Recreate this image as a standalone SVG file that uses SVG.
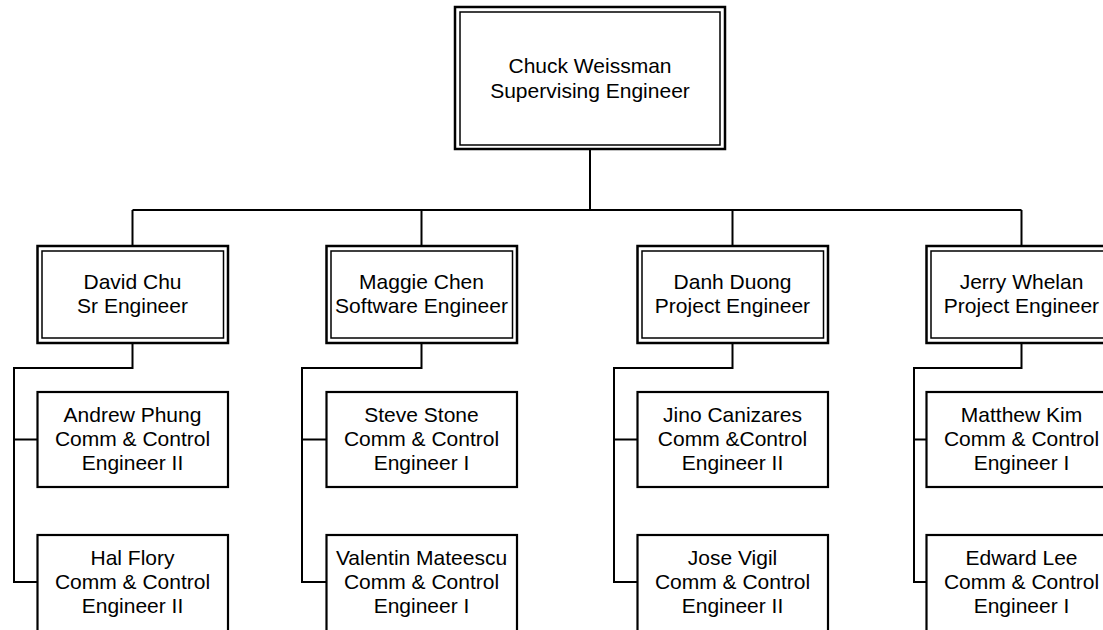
<svg xmlns="http://www.w3.org/2000/svg" width="1103" height="630" viewBox="0 0 1103 630">
<style>
.o{fill:#fff;stroke:#000;stroke-width:2.5}
.i{fill:none;stroke:#000;stroke-width:1.5}
.b{fill:#fff;stroke:#000;stroke-width:2.2}
.c{fill:none;stroke:#000;stroke-width:2}
text{font-family:"Liberation Sans",Arial,sans-serif;font-size:21px;text-anchor:middle;fill:#000}
</style>
<rect width="1103" height="630" fill="#fff"/>
<g id="connectors">
<path class="c" d="M590 149V210M132.5 210H1021.5M132.5 210V246M421.5 210V246M732.5 210V246M1021.5 210V246"/>
<path class="c" d="M132.5 343V368H14V582H37M14 439.5H37"/>
<path class="c" d="M421.5 343V368H302V582H326M302 439.5H326"/>
<path class="c" d="M732.5 343V368H614V582H637M614 439.5H637"/>
<path class="c" d="M1021.5 343V368H914V582H926M914 439.5H926"/>
</g>
<g id="chuck">
<rect class="o" x="455" y="7" width="270" height="142"/>
<rect class="i" x="460" y="12" width="260" height="133"/>
<text x="590" y="73">Chuck Weissman</text>
<text x="590" y="98">Supervising Engineer</text>
</g>
<g id="david">
<rect class="o" x="37.5" y="246" width="190.5" height="97"/>
<rect class="i" x="42" y="251" width="181.5" height="87"/>
<text x="132.5" y="289">David Chu</text>
<text x="132.5" y="313">Sr Engineer</text>
</g>
<g id="maggie">
<rect class="o" x="326.5" y="246" width="190.5" height="97"/>
<rect class="i" x="331" y="251" width="181.5" height="87"/>
<text x="421.5" y="289">Maggie Chen</text>
<text x="421.5" y="313">Software Engineer</text>
</g>
<g id="danh">
<rect class="o" x="637.5" y="246" width="190.5" height="97"/>
<rect class="i" x="642" y="251" width="181.5" height="87"/>
<text x="732.5" y="289">Danh Duong</text>
<text x="732.5" y="313">Project Engineer</text>
</g>
<g id="jerry">
<rect class="o" x="926.5" y="246" width="190.5" height="97"/>
<rect class="i" x="931" y="251" width="181.5" height="87"/>
<text x="1021.5" y="289">Jerry Whelan</text>
<text x="1021.5" y="313">Project Engineer</text>
</g>
<g id="andrew">
<rect class="b" x="37.5" y="392" width="190.5" height="95"/>
<text x="132.5" y="422">Andrew Phung</text>
<text x="132.5" y="446">Comm &amp; Control</text>
<text x="132.5" y="470">Engineer II</text>
</g>
<g id="hal">
<rect class="b" x="37.5" y="535" width="190.5" height="100"/>
<text x="132.5" y="565">Hal Flory</text>
<text x="132.5" y="589">Comm &amp; Control</text>
<text x="132.5" y="613">Engineer II</text>
</g>
<g id="steve">
<rect class="b" x="326.5" y="392" width="190.5" height="95"/>
<text x="421.5" y="422">Steve Stone</text>
<text x="421.5" y="446">Comm &amp; Control</text>
<text x="421.5" y="470">Engineer I</text>
</g>
<g id="valentin">
<rect class="b" x="326.5" y="535" width="190.5" height="100"/>
<text x="421.5" y="565">Valentin Mateescu</text>
<text x="421.5" y="589">Comm &amp; Control</text>
<text x="421.5" y="613">Engineer I</text>
</g>
<g id="jino">
<rect class="b" x="637.5" y="392" width="190.5" height="95"/>
<text x="732.5" y="422">Jino Canizares</text>
<text x="732.5" y="446">Comm &amp;Control</text>
<text x="732.5" y="470">Engineer II</text>
</g>
<g id="jose">
<rect class="b" x="637.5" y="535" width="190.5" height="100"/>
<text x="732.5" y="565">Jose Vigil</text>
<text x="732.5" y="589">Comm &amp; Control</text>
<text x="732.5" y="613">Engineer II</text>
</g>
<g id="matthew">
<rect class="b" x="926.5" y="392" width="190.5" height="95"/>
<text x="1021.5" y="422">Matthew Kim</text>
<text x="1021.5" y="446">Comm &amp; Control</text>
<text x="1021.5" y="470">Engineer I</text>
</g>
<g id="edward">
<rect class="b" x="926.5" y="535" width="190.5" height="100"/>
<text x="1021.5" y="565">Edward Lee</text>
<text x="1021.5" y="589">Comm &amp; Control</text>
<text x="1021.5" y="613">Engineer I</text>
</g>
</svg>
